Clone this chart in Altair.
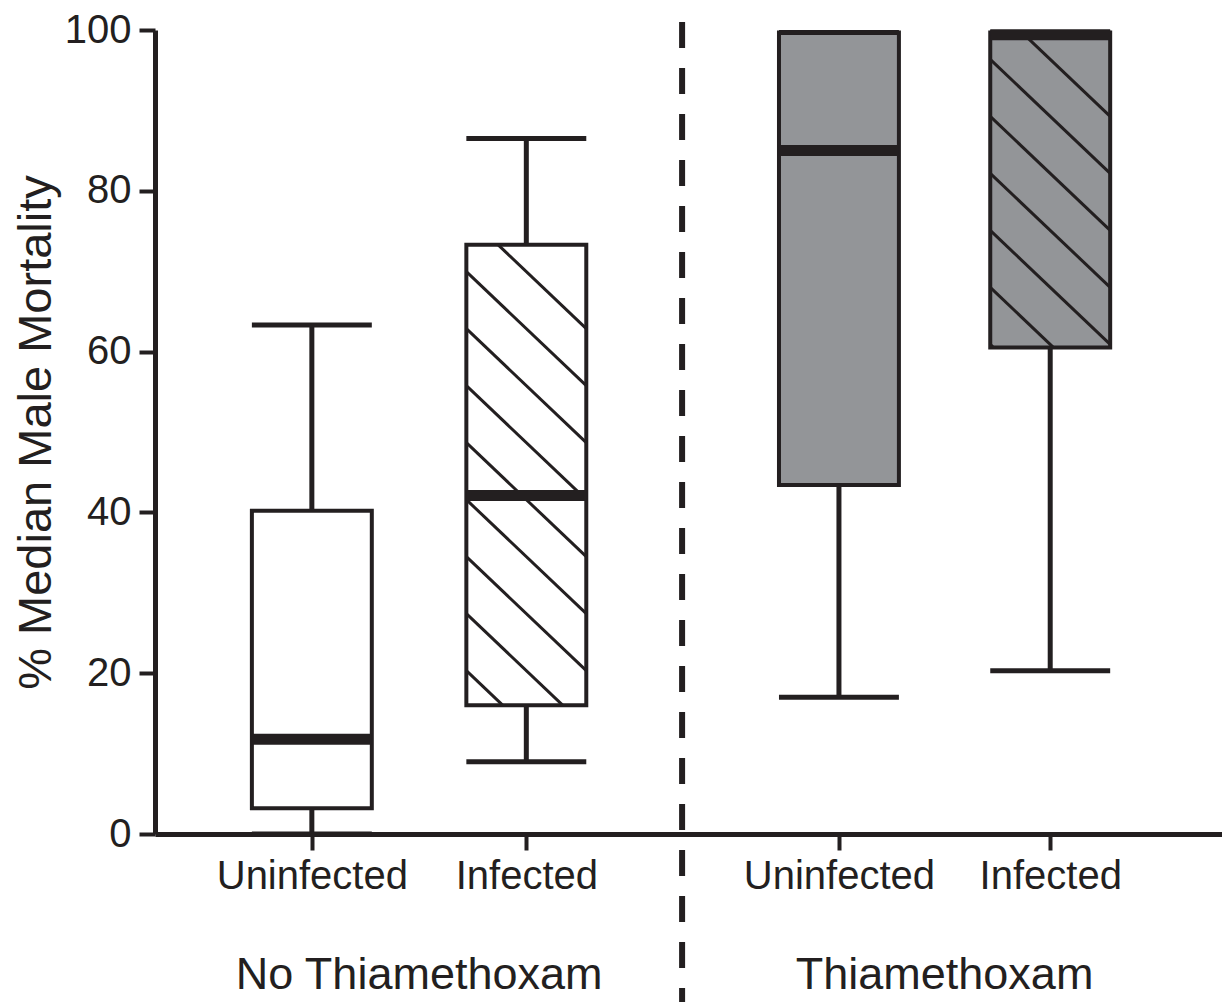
import altair as alt
import numpy as np
import pandas as pd

# ---- data: box-plot summaries of male mortality (%) ----
categories = ["Uninfected", "Infected", "Uninfected", "Infected"]
treatments = ["No Thiamethoxam", "No Thiamethoxam", "Thiamethoxam", "Thiamethoxam"]
whisker_low = [0.0, 9.0, 17.0, 20.3]
quartile_1 = [3.2, 16.0, 43.4, 60.5]
medians = [11.8, 42.1, 85.0, 99.4]
quartile_3 = [40.2, 73.3, 99.7, 99.7]
whisker_high = [63.3, 86.5, 99.7, 99.7]
infected = [False, True, False, True]
treated = [False, False, True, True]
y_ticks = [0, 20, 40, 60, 80, 100]

# ---- layout ----
PLOT_W, PLOT_H = 1067, 804
X_MAX = 10.0
slot_pos = [1.47, 3.48, 6.41, 8.39]
divider_pos = 4.94
half_w = 0.562
INK = "#231f20"
GREY = "#939598"
FONT = "Liberation Sans"

boxes = pd.DataFrame({
    "category": categories,
    "treatment": treatments,
    "pos": slot_pos,
    "lo": whisker_low,
    "q1": quartile_1,
    "med": medians,
    "q3": quartile_3,
    "hi": whisker_high,
    "fill": [GREY if t else "white" for t in treated],
})
boxes["xl"] = boxes["pos"] - half_w
boxes["xr"] = boxes["pos"] + half_w

# ---- diagonal hatching for the infected boxes, clipped to each box ----
px_x = PLOT_W / X_MAX
px_y = PLOT_H / 100.0
slope = 0.95 * px_x / px_y      # data-y drop per data-x step
gap = 57 / px_y                 # vertical spacing between hatch lines
phase = 30 / px_y               # first line starts above the box top

segs = []
for _, b in boxes[infected].iterrows():
    y0 = b.q3 + phase
    while True:
        xa = b.xl + (y0 - b.q3) / slope   # where the line meets the top
        xb = b.xl + (y0 - b.q1) / slope   # where it meets the bottom
        if xa > b.xr:
            y0 -= gap
            continue
        xs, xe = max(b.xl, xa), min(b.xr, xb)
        if xs < xe:
            segs.append({
                "x": xs, "x2": xe,
                "y": y0 - slope * (xs - b.xl),
                "y2": y0 - slope * (xe - b.xl),
            })
        if xb <= b.xl:
            break
        y0 -= gap
hatch = pd.DataFrame(segs)

xs = alt.Scale(domain=[0, X_MAX], nice=False, zero=False)
ys = alt.Scale(domain=[0, 100], nice=False)

label_js = "[" + ",".join("'%s'" % c for c in categories) + "]"
pos_js = "[" + ",".join(str(p) for p in slot_pos) + "]"

x_axis = alt.Axis(
    values=slot_pos, labelExpr=f"{label_js}[indexof({pos_js}, datum.value)]",
    grid=False, domainWidth=5, domainColor=INK, tickColor=INK, tickWidth=4,
    tickSize=16, labelFontSize=40, labelFont=FONT, labelColor=INK,
    labelPadding=6, labelLimit=500, title="",
)
y_axis = alt.Axis(
    values=y_ticks, grid=False, domainWidth=5, domainColor=INK, tickColor=INK,
    tickWidth=4, tickSize=16, labelFontSize=40, labelFont=FONT,
    labelColor=INK, labelPadding=8, title="% Median Male Mortality",
    titleFontSize=47, titleFont=FONT, titleFontWeight="normal",
    titleColor=INK, titlePadding=4,
)

base = alt.Chart(boxes)

fills = base.mark_rect().encode(
    x=alt.X("xl:Q", scale=xs, axis=x_axis),
    x2="xr:Q",
    y=alt.Y("q1:Q", scale=ys, axis=y_axis),
    y2="q3:Q",
    fill=alt.Fill("fill:N", scale=None),
)

hatch_lines = alt.Chart(hatch).mark_rule(color=INK, strokeWidth=3).encode(
    x=alt.X("x:Q", scale=xs), x2="x2:Q",
    y=alt.Y("y:Q", scale=ys), y2="y2:Q",
)

whisk_up = base.mark_rule(color=INK, strokeWidth=5).encode(
    x=alt.X("pos:Q", scale=xs), y=alt.Y("q3:Q", scale=ys), y2="hi:Q")
whisk_dn = base.mark_rule(color=INK, strokeWidth=5).encode(
    x=alt.X("pos:Q", scale=xs), y=alt.Y("lo:Q", scale=ys), y2="q1:Q")
cap_hi = base.mark_rule(color=INK, strokeWidth=5).encode(
    x=alt.X("xl:Q", scale=xs), x2="xr:Q", y=alt.Y("hi:Q", scale=ys))
cap_lo = base.mark_rule(color=INK, strokeWidth=5).encode(
    x=alt.X("xl:Q", scale=xs), x2="xr:Q", y=alt.Y("lo:Q", scale=ys))

outline = base.mark_rect(fillOpacity=0, stroke=INK, strokeWidth=4).encode(
    x=alt.X("xl:Q", scale=xs), x2="xr:Q",
    y=alt.Y("q1:Q", scale=ys), y2="q3:Q",
)

median_bar = base.mark_rule(color=INK, strokeWidth=11).encode(
    x=alt.X("xl:Q", scale=xs), x2="xr:Q", y=alt.Y("med:Q", scale=ys))

divider = alt.Chart(pd.DataFrame({"x": [divider_pos]})).mark_rule(
    color=INK, strokeWidth=6, strokeDash=[26, 20]
).encode(x=alt.X("x:Q", scale=xs), y=alt.value(-8), y2=alt.value(972))

groups = boxes.groupby("treatment", sort=False)["pos"].mean().reset_index()
group_text = alt.Chart(groups).mark_text(
    fontSize=45, font=FONT, color=INK, baseline="middle", align="center"
).encode(x=alt.X("pos:Q", scale=xs), y=alt.value(945), text="treatment:N")

chart = alt.layer(
    fills, hatch_lines, whisk_up, whisk_dn, cap_hi, cap_lo, outline,
    median_bar, divider, group_text,
).properties(
    width=PLOT_W, height=PLOT_H,
    autosize=alt.AutoSizeParams(type="none"),
    padding={"left": 155, "top": 30, "right": 0, "bottom": 168},
    background="white",
).configure_view(stroke=None)

chart.save("out.html", embed_options={"renderer": "svg", "actions": False})
